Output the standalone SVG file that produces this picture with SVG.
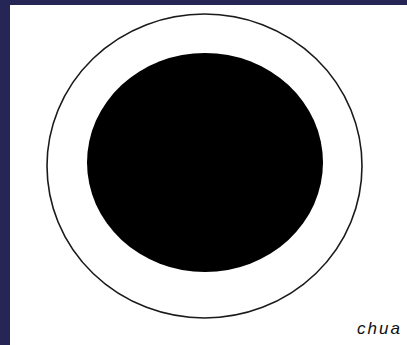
<svg xmlns="http://www.w3.org/2000/svg" width="407" height="345" viewBox="0 0 407 345">
<style>
.frame{fill:#252656}
.ring{fill:none;stroke:#1a1a1a;stroke-width:1.6}
.core{fill:#000}
.lbl{font-family:"Liberation Sans",Arial,sans-serif;font-style:italic;font-size:17px;fill:#111;letter-spacing:2px}
</style>
<rect class="frame" x="0" y="0" width="407" height="345"/>
<rect x="10" y="5" width="397" height="340" fill="#fff"/>
<g id="outer-ring"><ellipse class="ring" cx="204.5" cy="166" rx="157.5" ry="152"/></g>
<g id="core"><ellipse class="core" cx="205" cy="162.5" rx="118" ry="109.5"/></g>
<g id="connectors"/>
<g id="label"><text class="lbl" x="357" y="334">chua</text></g>
</svg>
